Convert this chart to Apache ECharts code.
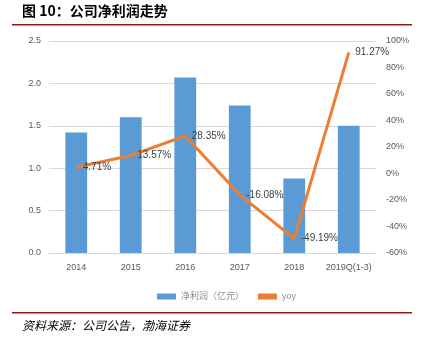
<!DOCTYPE html>
<html><head><meta charset="utf-8">
<script src="https://cdn.jsdelivr.net/npm/echarts@6/dist/echarts.min.js"></script>
<style>html,body{margin:0;padding:0;background:#fff}#c{width:430px;height:345px}</style>
</head><body><div id="c"></div>
<script>
var categories = ['2014','2015','2016','2017','2018','2019Q(1-3)'];
var profit = [1.42, 1.60, 2.07, 1.74, 0.88, 1.50];
var yoy = [4.71, 13.57, 28.35, -16.08, -49.19, 91.27];
var leftTicks = {min:0, max:2.5, interval:0.5};
var rightTicks = {min:-60, max:100, interval:20};

var chart = echarts.init(document.getElementById('c'));
var font = '"Liberation Sans", "Noto Sans CJK SC", sans-serif';
chart.setOption({
  animation:false,
  textStyle:{fontFamily:font},
  graphic:[
    {type:'text', left:22, top:4, style:{text:'图 10：公司净利润走势', font:'bold 14px "Noto Sans CJK SC", sans-serif', fill:'#000'}},
    {type:'rect', shape:{x:12, y:24, width:400, height:1.5}, style:{fill:'#8B1A1A'}},
    {type:'rect', shape:{x:12, y:312, width:400, height:1.5}, style:{fill:'#8B1A1A'}},
    {type:'text', left:22, top:319, style:{text:'资料来源：公司公告，渤海证券', font:'italic 12px "Noto Sans CJK SC", sans-serif', fill:'#000'}}
  ],
  grid:{left:49, right:54, top:41, bottom:92},
  legend:{
    top:287, left:152, itemGap:14, itemWidth:19, itemHeight:6,
    textStyle:{color:'#8c8c8c', fontSize:9},
    data:[{name:'净利润（亿元）', icon:'rect'}, {name:'yoy', icon:'rect'}]
  },
  xAxis:{
    type:'category', data:categories,
    axisLine:{lineStyle:{color:'#d9d9d9'}}, axisTick:{show:false},
    axisLabel:{color:'#595959', fontSize:9, margin:10, interval:0}
  },
  yAxis:[
    {type:'value', min:leftTicks.min, max:leftTicks.max, interval:leftTicks.interval,
     axisLabel:{color:'#595959', fontSize:9, formatter:function(v){return v.toFixed(1);}},
     splitLine:{lineStyle:{color:'#d9d9d9'}}, axisLine:{show:false}, axisTick:{show:false}},
    {type:'value', min:rightTicks.min, max:rightTicks.max, interval:rightTicks.interval,
     axisLabel:{color:'#595959', fontSize:9, formatter:'{value}%', margin:10},
     splitLine:{show:false}, axisLine:{show:false}, axisTick:{show:false}}
  ],
  series:[
    {name:'净利润（亿元）', type:'bar', data:profit, barWidth:'40%', itemStyle:{color:'#5B9BD5'}},
    {name:'yoy', type:'line', yAxisIndex:1, data:yoy, symbol:'circle', symbolSize:1, showSymbol:true,
     lineStyle:{color:'#ED7D31', width:3}, itemStyle:{color:'#ED7D31'},
     label:{show:true, position:'right', distance:6, color:'#404040', fontSize:10, formatter:function(p){return p.value.toFixed(2)+'%';}}}
  ]
});
</script></body></html>
